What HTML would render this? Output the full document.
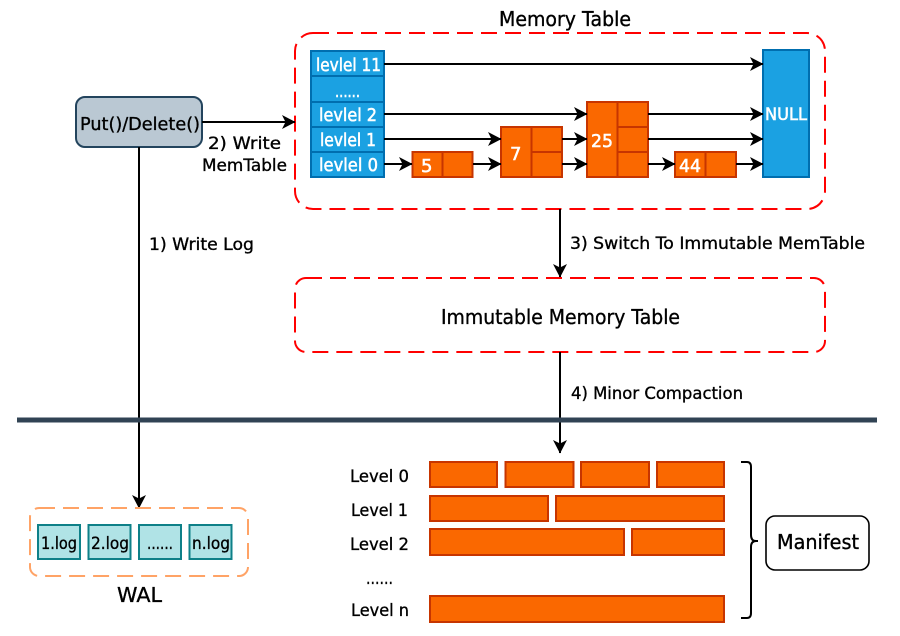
<!DOCTYPE html>
<html>
<head>
<meta charset="utf-8">
<style>
html,body{margin:0;padding:0;background:#fff;width:900px;height:636px;overflow:hidden}
svg{display:block}
text{font-family:"DejaVu Sans","Liberation Sans",sans-serif;fill:#000;stroke:#000;stroke-width:0.35}
text.w{fill:#fff;stroke:#fff;stroke-width:0.55}
.o{fill:#fa6800;stroke:#c73500;stroke-width:2}
.b{fill:#1ba1e2;stroke:#006eaf;stroke-width:2}
.t{fill:#b0e3e6;stroke:#0e8088;stroke-width:2}
.a{stroke:#000;stroke-width:2;fill:none;marker-end:url(#arr)}
</style>
</head>
<body>
<svg width="900" height="636" viewBox="0 0 900 636" xmlns="http://www.w3.org/2000/svg">
<defs>
<marker id="arr" markerUnits="userSpaceOnUse" markerWidth="14" markerHeight="15" refX="13" refY="7.5" orient="auto" viewBox="0 0 14 15">
<path d="M0,0.5 L13.5,7.5 L0,14.5 L3.5,7.5 Z" fill="#000"/>
</marker>
</defs>
<rect width="900" height="636" fill="#fff"/>

<!-- Memory table -->
<rect x="295" y="33" width="530" height="176" rx="18" ry="18" fill="none" stroke="#ff0000" stroke-width="2" stroke-dasharray="16 8"/>
<text x="499" y="26" font-size="20" textLength="132" lengthAdjust="spacingAndGlyphs">Memory Table</text>

<!-- Levels column -->
<rect class="b" x="311" y="51" width="73" height="25"/>
<rect class="b" x="311" y="76" width="73" height="26"/>
<rect class="b" x="311" y="102" width="73" height="25"/>
<rect class="b" x="311" y="127" width="73" height="25"/>
<rect class="b" x="311" y="152" width="73" height="25"/>
<text class="w" x="316" y="71" font-size="18" textLength="65" lengthAdjust="spacingAndGlyphs">levlel 11</text>
<text class="w" x="335" y="97" font-size="16" textLength="25" lengthAdjust="spacingAndGlyphs">......</text>
<text class="w" x="319" y="121" font-size="18" textLength="58" lengthAdjust="spacingAndGlyphs">levlel 2</text>
<text class="w" x="320" y="146" font-size="18" textLength="56" lengthAdjust="spacingAndGlyphs">levlel 1</text>
<text class="w" x="319" y="171" font-size="18" textLength="59" lengthAdjust="spacingAndGlyphs">levlel 0</text>

<!-- Skip list nodes -->
<rect class="o" x="412.5" y="152" width="60" height="25"/>
<line x1="442.5" y1="152" x2="442.5" y2="177" stroke="#c73500" stroke-width="2"/>
<text class="w" x="421" y="172" font-size="18">5</text>

<rect class="o" x="501" y="127" width="61" height="50"/>
<path d="M531.5,127V177M531.5,152H562" stroke="#c73500" stroke-width="2" fill="none"/>
<text class="w" x="510" y="160" font-size="18">7</text>

<rect class="o" x="587" y="102" width="61" height="75"/>
<path d="M617.5,102V177M617.5,127H648M617.5,152H648" stroke="#c73500" stroke-width="2" fill="none"/>
<text class="w" x="591" y="147" font-size="18" textLength="22" lengthAdjust="spacingAndGlyphs">25</text>

<rect class="o" x="675" y="152" width="61" height="25"/>
<line x1="705.5" y1="152" x2="705.5" y2="177" stroke="#c73500" stroke-width="2"/>
<text class="w" x="679" y="172" font-size="18" textLength="22" lengthAdjust="spacingAndGlyphs">44</text>

<rect class="b" x="763" y="50" width="46" height="127"/>
<text class="w" x="765" y="120" font-size="17" textLength="42" lengthAdjust="spacingAndGlyphs">NULL</text>

<!-- Skip list arrows -->
<line class="a" x1="384" y1="64" x2="763" y2="64"/>
<line class="a" x1="384" y1="114" x2="587" y2="114"/>
<line class="a" x1="648" y1="114" x2="763" y2="114"/>
<line class="a" x1="384" y1="139" x2="501" y2="139"/>
<line class="a" x1="562" y1="139" x2="587" y2="139"/>
<line class="a" x1="648" y1="139" x2="763" y2="139"/>
<line class="a" x1="384" y1="164" x2="412" y2="164"/>
<line class="a" x1="473" y1="164" x2="501" y2="164"/>
<line class="a" x1="562" y1="164" x2="587" y2="164"/>
<line class="a" x1="648" y1="164" x2="675" y2="164"/>
<line class="a" x1="736" y1="164" x2="763" y2="164"/>

<!-- Put/Delete -->
<rect x="76" y="97" width="126" height="50" rx="9" ry="9" fill="#bac8d3" stroke="#23445d" stroke-width="2"/>
<text x="80" y="130" font-size="18" textLength="120" lengthAdjust="spacingAndGlyphs">Put()/Delete()</text>
<line class="a" x1="202" y1="122" x2="295" y2="122"/>
<text x="208" y="149" font-size="17" textLength="73" lengthAdjust="spacingAndGlyphs">2) Write</text>
<text x="202" y="171" font-size="17" textLength="85" lengthAdjust="spacingAndGlyphs">MemTable</text>
<line class="a" x1="139" y1="147" x2="139" y2="508"/>
<text x="149" y="250" font-size="17" textLength="105" lengthAdjust="spacingAndGlyphs">1) Write Log</text>

<!-- Immutable -->
<line class="a" x1="560" y1="209" x2="560" y2="277"/>
<text x="570" y="249" font-size="17" textLength="295" lengthAdjust="spacingAndGlyphs">3) Switch To Immutable MemTable</text>
<rect x="295" y="278" width="530" height="74" rx="11" ry="11" fill="none" stroke="#ff0000" stroke-width="2" stroke-dasharray="16 8"/>
<text x="441" y="324" font-size="20" textLength="239" lengthAdjust="spacingAndGlyphs">Immutable Memory Table</text>
<line class="a" x1="560" y1="352" x2="560" y2="453"/>
<text x="571" y="399" font-size="17" textLength="172" lengthAdjust="spacingAndGlyphs">4) Minor Compaction</text>

<!-- Divider -->
<line x1="17" y1="420" x2="877" y2="420" stroke="#314354" stroke-width="5"/>

<!-- WAL -->
<rect x="30" y="508" width="218" height="68" rx="9" ry="9" fill="none" stroke="#ffa366" stroke-width="2" stroke-dasharray="16 8"/>
<rect class="t" x="38" y="525" width="42" height="34"/>
<rect class="t" x="88.5" y="525" width="42" height="34"/>
<rect class="t" x="139" y="525" width="42" height="34"/>
<rect class="t" x="189.5" y="525" width="42" height="34"/>
<text x="41" y="549" font-size="17" textLength="36" lengthAdjust="spacingAndGlyphs">1.log</text>
<text x="91" y="549" font-size="17" textLength="38" lengthAdjust="spacingAndGlyphs">2.log</text>
<text x="147" y="549" font-size="17" textLength="26" lengthAdjust="spacingAndGlyphs">......</text>
<text x="192" y="549" font-size="17" textLength="38" lengthAdjust="spacingAndGlyphs">n.log</text>
<text x="117" y="602" font-size="20" textLength="45" lengthAdjust="spacingAndGlyphs">WAL</text>

<!-- SSTable levels -->
<rect class="o" x="430" y="462" width="67" height="25"/>
<rect class="o" x="505.5" y="462" width="68" height="25"/>
<rect class="o" x="581" y="462" width="68" height="25"/>
<rect class="o" x="657" y="462" width="67" height="25"/>
<rect class="o" x="430" y="496" width="118" height="25"/>
<rect class="o" x="556" y="496" width="168" height="25"/>
<rect class="o" x="430" y="529" width="194" height="26"/>
<rect class="o" x="632" y="529" width="92" height="26"/>
<rect class="o" x="430" y="596" width="294" height="26"/>

<text x="350" y="482" font-size="17" textLength="59" lengthAdjust="spacingAndGlyphs">Level 0</text>
<text x="351" y="516" font-size="17" textLength="57" lengthAdjust="spacingAndGlyphs">Level 1</text>
<text x="350" y="550" font-size="17" textLength="59" lengthAdjust="spacingAndGlyphs">Level 2</text>
<text x="366" y="584" font-size="17" textLength="27" lengthAdjust="spacingAndGlyphs">......</text>
<text x="351" y="616" font-size="17" textLength="58" lengthAdjust="spacingAndGlyphs">Level n</text>

<!-- Brace -->
<path d="M741,462 H747 Q751,462 751,467 V535 Q751,541 756,541 H758 H756 Q751,541 751,547 V613 Q751,618 747,618 H741" fill="none" stroke="#000" stroke-width="2"/>

<!-- Manifest -->
<rect x="766" y="516" width="103" height="54" rx="9" ry="9" fill="#fff" stroke="#000" stroke-width="1.6"/>
<text x="777" y="549" font-size="20" textLength="82" lengthAdjust="spacingAndGlyphs">Manifest</text>
</svg>
</body>
</html>
